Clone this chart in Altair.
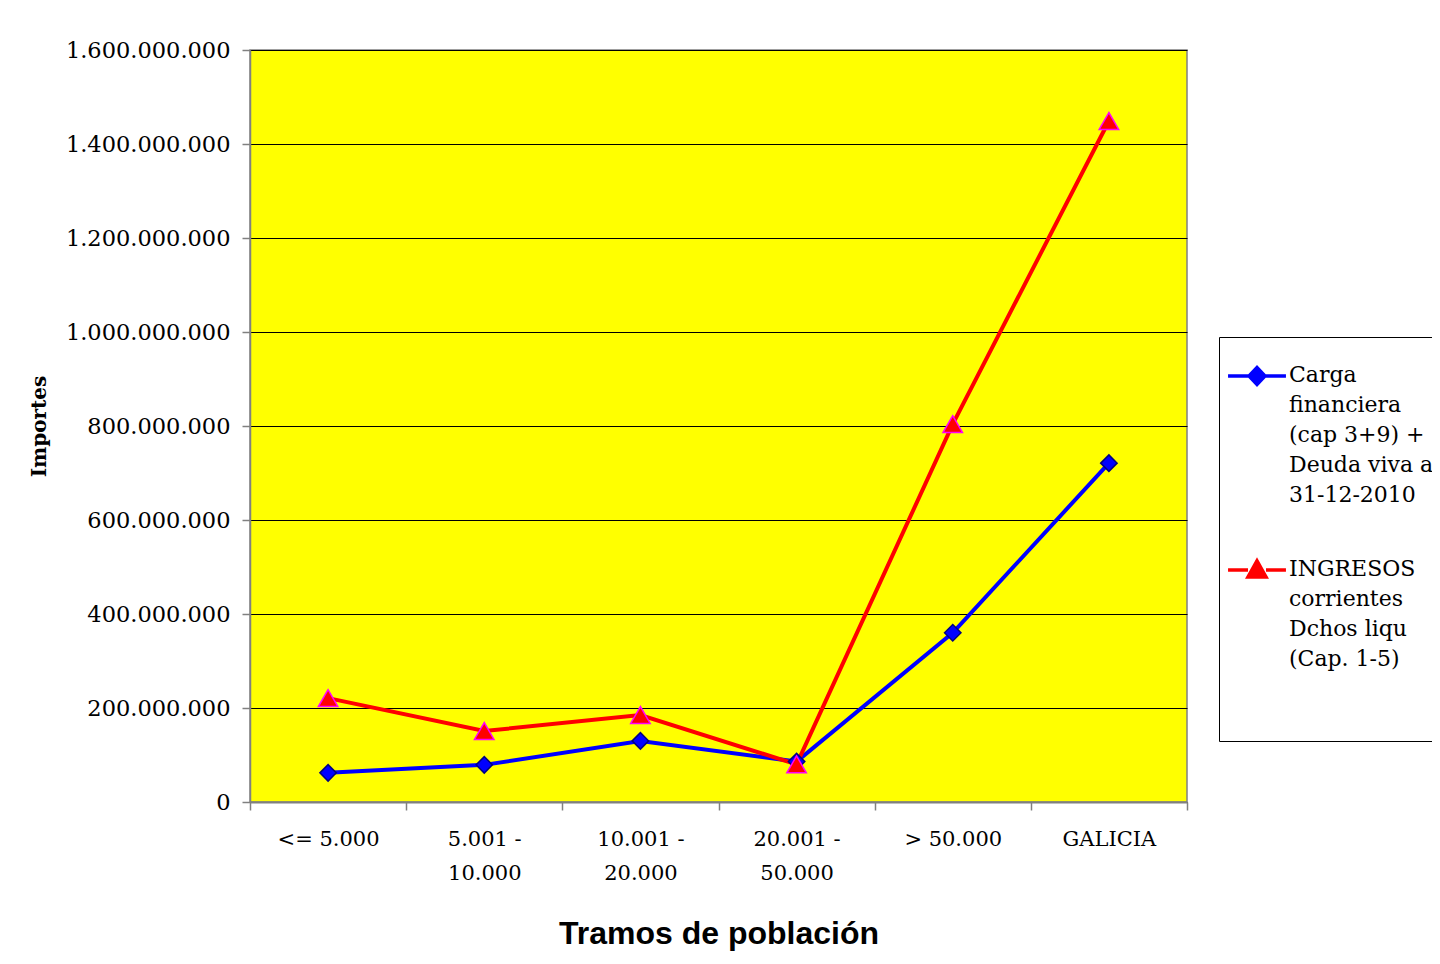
import altair as alt
import pandas as pd

# ---- data ----
categories = ["<= 5.000", "5.001 -|10.000", "10.001 -|20.000", "20.001 -|50.000", "> 50.000", "GALICIA"]
carga = [62e6, 79e6, 130e6, 86e6, 360e6, 721e6]
ingresos = [221e6, 151e6, 185e6, 80e6, 804e6, 1449e6]
series_names = ["Carga|financiera|(cap 3+9) +|Deuda viva a|31-12-2010",
                "INGRESOS|corrientes|Dchos liqu|(Cap. 1-5)| | "]
series_colors = ["#0000FF", "#FF0000"]
y_ticks = [0, 200e6, 400e6, 600e6, 800e6, 1000e6, 1200e6, 1400e6, 1600e6]

rows = []
for name, vals in zip(series_names, [carga, ingresos]):
    for c, v in zip(categories, vals):
        rows.append({"tramo": c, "serie": name, "valor": v})
df = pd.DataFrame(rows)

# legend glyphs: line segment with a marker (unit = half the symbol box)
legend_paths = [
    "M-1.93,0.73L-0.53,0.73M-0.53,0.73L0,0.17L0.53,0.73L0,1.29ZM0.53,0.73L1.93,0.73",
    "M-1.93,0.73L-0.6,0.73M0,0.13L0.6,1.2L-0.6,1.2ZM0.6,0.73L1.93,0.73",
]

serif = "DejaVu Serif"

x_enc = alt.X(
    "tramo:N", sort=categories,
    scale=alt.Scale(type="band", paddingInner=0, paddingOuter=0),
    axis=alt.Axis(
        title="Tramos de población", labelExpr="split(datum.label, '|')",
        labelAngle=0, tickBand="extent", labelFont=serif, labelFontSize=21,
        labelLineHeight=34, labelPadding=18, labelColor="black",
        titleFont="Liberation Sans", titleFontSize=32, titleFontWeight="bold",
        titlePadding=35, titleColor="black",
        domainColor="#808080", domainWidth=2, tickColor="#808080", tickSize=8,
        tickWidth=1.5, grid=False,
    ),
)
y_enc = alt.Y(
    "valor:Q",
    scale=alt.Scale(domain=[0, 1.6e9], nice=False),
    axis=alt.Axis(
        title="Importes", values=y_ticks,
        labelExpr="replace(format(datum.value, ','), regexp(',', 'g'), '.')",
        labelFont=serif, labelFontSize=22.5, labelPadding=12, labelColor="black",
        titleFont=serif, titleFontSize=20, titleFontWeight="bold",
        titlePadding=16, titleColor="black",
        domainColor="#808080", domainWidth=1.5, tickColor="#808080", tickSize=8,
        tickWidth=1.5, grid=True, gridColor="black", gridWidth=1,
    ),
)

leg = alt.Legend(
    orient="none", legendX=969, legendY=287,
    labelExpr="split(datum.label, '|')", labelFont=serif, labelFontSize=22,
    labelLimit=400, labelOffset=15, labelBaseline="top",
    symbolSize=900, symbolOffset=10, symbolStrokeWidth=3.5, symbolOpacity=1,
    rowPadding=36, padding=11, strokeColor="black", fillColor="white",
)

color_scale = alt.Scale(domain=series_names, range=series_colors)
shape_scale = alt.Scale(domain=series_names, range=legend_paths)

lines = alt.Chart(df).mark_line(strokeWidth=4).encode(
    x=x_enc, y=y_enc,
    color=alt.Color("serie:N", scale=color_scale, legend=leg, sort=series_names, title=None),
)

legend_layer = alt.Chart(df).mark_point(filled=True, opacity=0, strokeWidth=3.5).encode(
    x=x_enc, y=y_enc,
    color=alt.Color("serie:N", scale=color_scale, legend=leg, sort=series_names, title=None),
    stroke=alt.Stroke("serie:N", scale=color_scale, legend=leg, sort=series_names, title=None),
    shape=alt.Shape("serie:N", scale=shape_scale, legend=leg, sort=series_names, title=None),
)

diamonds = alt.Chart(df).transform_filter(
    alt.datum.serie == series_names[0]
).mark_point(shape="diamond", size=270, filled=True, fill="#0000FF",
             stroke="#000080", strokeWidth=1.5, opacity=1).encode(x=x_enc, y=y_enc)

triangles = alt.Chart(df).transform_filter(
    alt.datum.serie == series_names[1]
).mark_point(shape="triangle-up", size=380, filled=True, fill="#FF0000",
             stroke="#FF00FF", strokeWidth=1.5, opacity=1).encode(x=x_enc, y=y_enc)

chart = alt.layer(lines, legend_layer, diamonds, triangles).properties(
    width=937, height=752,
    autosize=alt.AutoSizeParams(type="none"),
    padding={"left": 242, "top": 42, "right": 245, "bottom": 150},
    background="white",
).configure(
    style={"guide-label": {"lineHeight": 30}},
).configure_view(
    fill="#FFFF00", stroke="#808080", strokeWidth=1.5,
)

chart.save("out.html", embed_options={"renderer": "svg", "actions": False})
